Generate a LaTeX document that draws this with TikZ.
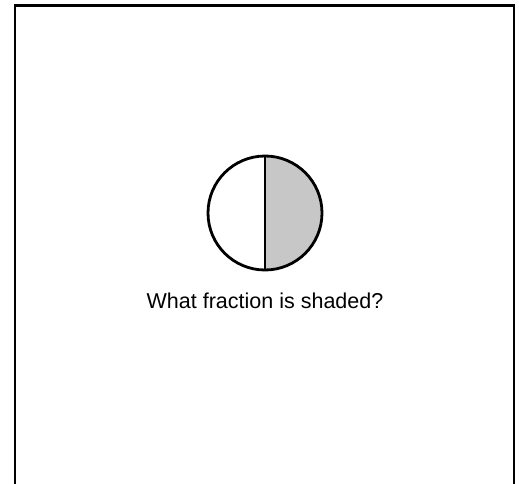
\documentclass[tikz,border=0pt]{standalone}
\usepackage{fontspec}
\setmainfont{Liberation Sans}
\usepackage{xcolor}
\usetikzlibrary{positioning, calc}

\definecolor{halfgrey}{RGB}{199,199,199}

\begin{document}
\begin{tikzpicture}[
  x=1pt, y=1pt,
  disc/.style={circle, draw, line width=2.8pt, minimum size=114pt, inner sep=0pt},
  frameline/.style={line width=2.8pt},
  question/.style={font=\fontsize{21.5}{26}\selectfont},
]
  \useasboundingbox (0,0) rectangle (519,-484);

  % Frame (open at the bottom)
  \draw[frameline] (15,-484) -- (15,-5.5) -- (514,-5.5) -- (514,-484);

  % Half shaded circle
  \coordinate (mid) at (265,-213);
  \fill[fill=halfgrey] ($(mid)+(0,57)$) arc[start angle=90, end angle=-90, radius=57pt] -- cycle;
  \node[disc] (c) at (mid) {};
  \draw[line width=1.9pt] (c.north) -- (c.south);

  % Question
  \node[question, below=18pt of c] (q) {What fraction is shaded?};
\end{tikzpicture}
\end{document}
